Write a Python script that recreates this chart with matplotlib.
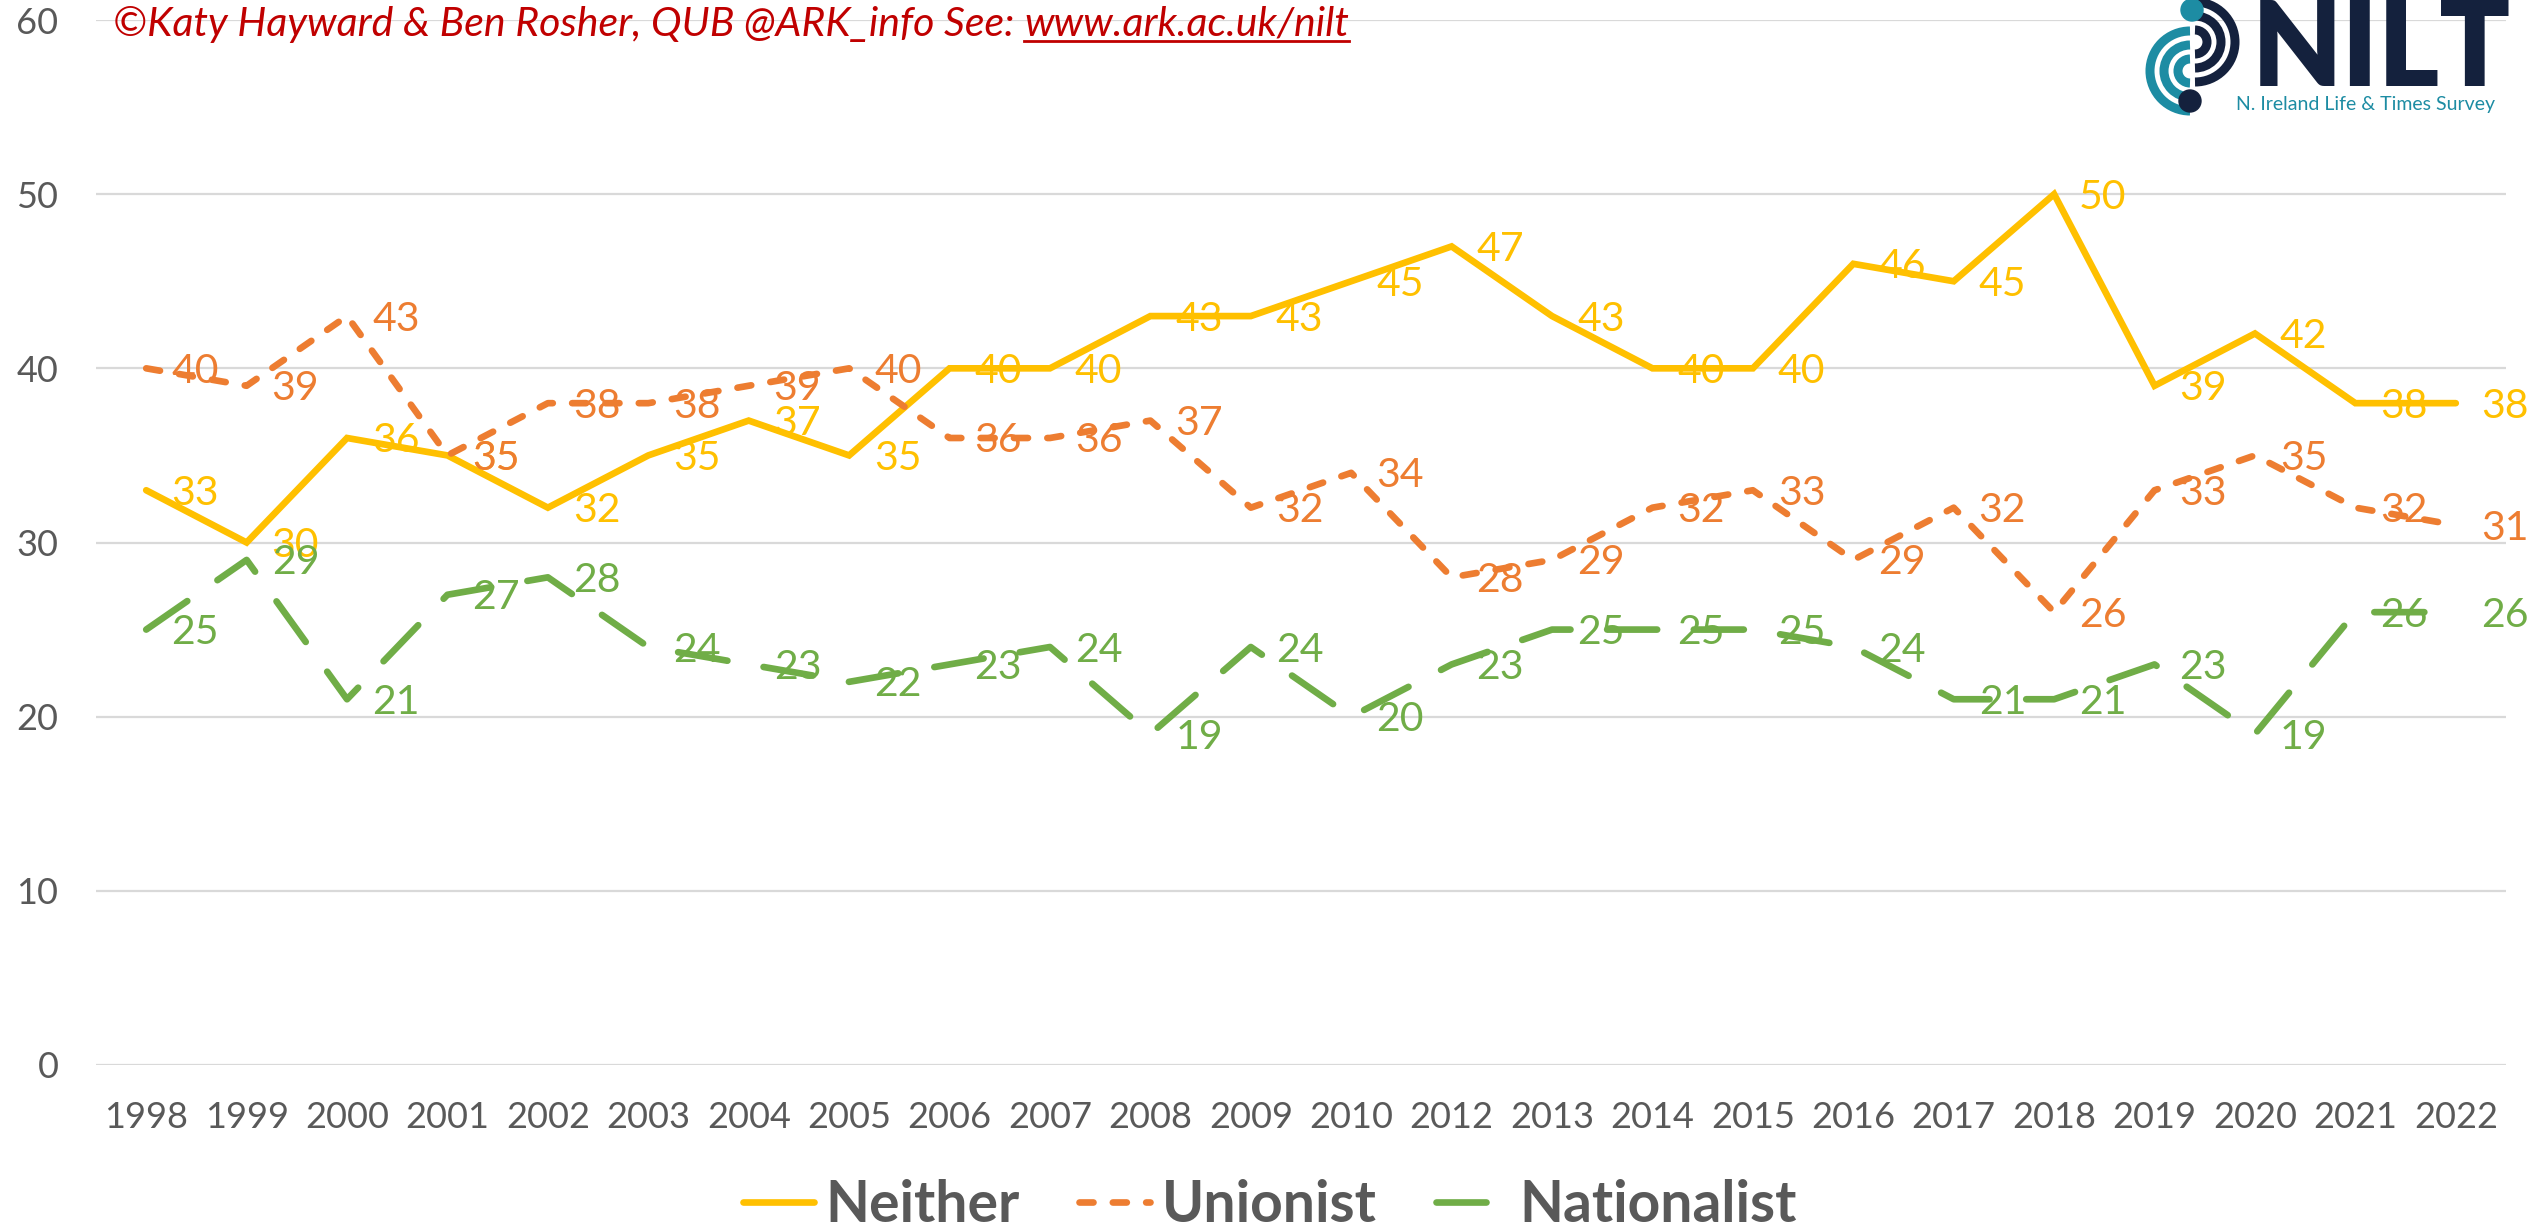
import matplotlib.pyplot as plt
from matplotlib.lines import Line2D
from matplotlib.patches import Arc, Circle

# survey years (no 2011 wave)
years = ["1998", "1999", "2000", "2001", "2002", "2003", "2004", "2005",
         "2006", "2007", "2008", "2009", "2010", "2012", "2013", "2014",
         "2015", "2016", "2017", "2018", "2019", "2020", "2021", "2022"]
neither = [33, 30, 36, 35, 32, 35, 37, 35, 40, 40, 43, 43, 45, 47, 43, 40,
           40, 46, 45, 50, 39, 42, 38, 38]
unionist = [40, 39, 43, 35, 38, 38, 39, 40, 36, 36, 37, 32, 34, 28, 29, 32,
            33, 29, 32, 26, 33, 35, 32, 31]
nationalist = [25, 29, 21, 27, 28, 24, 23, 22, 23, 24, 19, 24, 20, 23, 25, 25,
               25, 24, 21, 21, 23, 19, 26, 26]
y_ticks = [0, 10, 20, 30, 40, 50, 60]

W, H, DPI = 2539, 1232, 100
FONT = "Lato"
GREY = "#595959"
LW = 4.8

series = [
    ("Neither", neither, "#FFC000", "-"),
    ("Unionist", unionist, "#ED7D31", (0, (2.1, 2.9))),
    ("Nationalist", nationalist, "#70AD47", (0, (7.5, 5.5))),
]

fig = plt.figure(figsize=(W / DPI, H / DPI), dpi=DPI)
ax = fig.add_axes([96 / W, 1 - 1065 / H, (2506 - 96) / W, (1065 - 20) / H])

xs = list(range(len(years)))
handles = []
for i, (name, vals, color, ls) in enumerate(series):
    ax.plot(xs, vals, color=color, lw=LW, linestyle=ls,
            solid_capstyle="round", dash_capstyle="round",
            solid_joinstyle="miter", zorder=2 + i)
    handles.append(Line2D([], [], color=color, lw=LW, linestyle=ls,
                          solid_capstyle="round", dash_capstyle="round"))
    for xi, v in zip(xs, vals):
        ax.annotate(str(v), (xi, v), xytext=(25, -3), textcoords="offset pixels",
                    ha="left", va="center", fontsize=29.5, family=FONT,
                    color=color, zorder=10)

ax.set_xlim(-0.5, len(years) - 0.5)
ax.set_ylim(0, 60)
ax.set_yticks(y_ticks)
ax.set_xticks(xs)
ax.set_xticklabels(years)
ax.yaxis.grid(True, color="#D9D9D9", lw=1.6)
ax.set_axisbelow(True)
for s in ax.spines.values():
    s.set_visible(False)
ax.tick_params(length=0, labelsize=26, labelcolor=GREY)
ax.tick_params(axis="x", pad=26)
ax.tick_params(axis="y", pad=27)
for lab in ax.get_xticklabels() + ax.get_yticklabels():
    lab.set_family(FONT)

fig.legend(handles, [s[0] for s in series], loc="center",
           bbox_to_anchor=(0.5, 1 - 1205 / H), ncol=3, frameon=False,
           prop={"family": FONT, "weight": "bold", "size": 41},
           labelcolor=GREY, handlelength=1.25, handletextpad=0.2,
           columnspacing=1.05, borderpad=0.1)

# header credit with underlined link
RED = "#C00000"
base_y = 1 - 36 / H
t1 = fig.text(113 / W, base_y, "\u00a9Katy Hayward & Ben Rosher, QUB @ARK_info See: ",
              family=FONT, style="italic", size=29.5, color=RED, va="baseline")
fig.canvas.draw()
bb = t1.get_window_extent()
t2 = fig.text(bb.x1 / W, base_y, "www.ark.ac.uk/nilt", family=FONT,
              style="italic", size=29.5, color=RED, va="baseline")
fig.canvas.draw()
bb2 = t2.get_window_extent()
fig.add_artist(Line2D([bb2.x0 / W, bb2.x1 / W], [1 - 41 / H, 1 - 41 / H],
                      color=RED, lw=2, transform=fig.transFigure))

# NILT logo
NAVY = "#14213D"
TEAL = "#1D8CA3"
lg = fig.add_axes([2120 / W, 1 - 125 / H, 390 / W, 125 / H])
lg.set_xlim(2120, 2510)
lg.set_ylim(125, 0)
lg.axis("off")
for r in (40, 26, 12):
    lg.add_patch(Arc((2190, 71), 2 * r, 2 * r, theta1=90, theta2=270,
                     color=TEAL, lw=6.5))
    lg.add_patch(Arc((2195, 42), 2 * r, 2 * r, theta1=-90, theta2=90,
                     color=NAVY, lw=6.5))
lg.add_patch(Circle((2192, 10), 11, color=TEAL))
lg.add_patch(Circle((2190, 101), 11, color=NAVY))
lg.text(2252, 86, "NILT", family=FONT, weight="heavy", size=84,
        color=NAVY, va="baseline", ha="left")
lg.text(2366, 110, "N. Ireland Life & Times Survey", family=FONT, size=14,
        color=TEAL, va="baseline", ha="center")

fig.savefig("out.png", dpi=DPI)
